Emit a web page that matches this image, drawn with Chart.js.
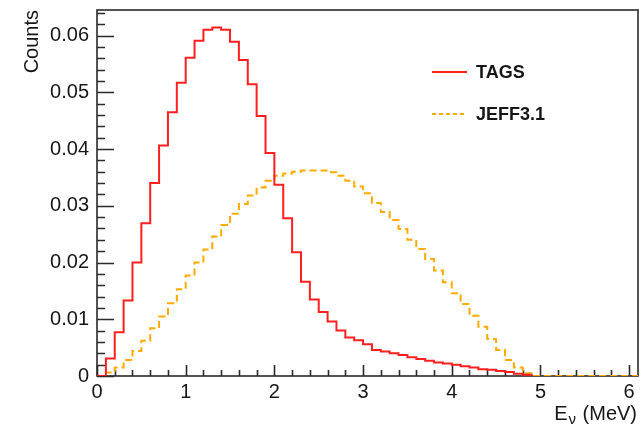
<!DOCTYPE html>
<html>
<head>
<meta charset="utf-8">
<script src="https://cdn.jsdelivr.net/npm/chart.js@4"></script>
<style>
  html,body{margin:0;padding:0;background:#fff;}
  #wrap{width:642px;height:426px;position:relative;}
</style>
</head>
<body>
<div id="wrap"><canvas id="chart"></canvas></div>
<script>
// ---- data (bin contents, 0.1 MeV bins starting at 0) ----
const binWidth = 0.1;
const tagsCounts = [0, 0.0031, 0.0077, 0.0133, 0.0200, 0.0269, 0.0340, 0.0406, 0.0465, 0.0517,
  0.0561, 0.0591, 0.0610, 0.0614, 0.0610, 0.0589, 0.0557, 0.0514, 0.0458, 0.0393,
  0.0337, 0.0278, 0.0218, 0.0166, 0.0135, 0.0113, 0.0096, 0.0080, 0.0068, 0.0063,
  0.0056, 0.0046, 0.0043, 0.0040, 0.0037, 0.0033, 0.0030, 0.0027, 0.0024, 0.0022,
  0.0020, 0.0017, 0.0015, 0.0012, 0.0011, 0.0009, 0.0007, 0.0004, 0.0002];
const jeffCounts = [0, 0.0006, 0.0015, 0.0028, 0.0044, 0.0062, 0.0084, 0.0105, 0.0128, 0.0153,
  0.0177, 0.0200, 0.0223, 0.0246, 0.0266, 0.0286, 0.0303, 0.0318, 0.0332, 0.0344,
  0.0353, 0.0357, 0.0360, 0.0362, 0.0362, 0.0362, 0.0359, 0.0353, 0.0344, 0.0334,
  0.0322, 0.0305, 0.0289, 0.0275, 0.0259, 0.0240, 0.0224, 0.0206, 0.0186, 0.0165,
  0.0146, 0.0127, 0.0106, 0.0087, 0.0065, 0.0046, 0.0028, 0.0015, 0.0005, 0,
  0, 0, 0, 0, 0, 0, 0, 0, 0, 0, 0];
const seriesLabels = ['TAGS', 'JEFF3.1'];
const xTicks = [0, 1, 2, 3, 4, 5, 6];
const yTicks = [0, 0.01, 0.02, 0.03, 0.04, 0.05, 0.06];
const xTitle = ['E', '\u03bd', ' (MeV)'];
const yTitle = 'Counts';

const FONT = 'Liberation Sans, Arial, sans-serif';
const INK = '#161616';

// histogram -> step points (left edge of each bin, plus closing edge)
function histPoints(counts){
  const pts = counts.map((v,i)=>({x: i*binWidth, y: v}));
  pts.push({x: counts.length*binWidth, y: 0});
  return pts;
}

// ---- frame + inward ROOT-style ticks ----
const frame = {
  id:'frame',
  beforeDatasetsDraw(c){
    const {ctx, chartArea:a, scales:{x, y}} = c;
    ctx.save();
    ctx.strokeStyle = '#2a2a2a'; ctx.lineWidth = 1.6;
    ctx.strokeRect(a.left, a.top, a.right-a.left, a.bottom-a.top);
    ctx.beginPath();
    for(let k=0;k<=32;k++){
      const v = k*0.002; if(v > y.max) break;
      const py = Math.round(y.getPixelForValue(v))+0.5;
      const len = k%5===0 ? 17 : 8;
      ctx.moveTo(a.left, py); ctx.lineTo(a.left+len, py);
    }
    for(let k=0;k<=31;k++){
      const v = k*0.2; if(v > x.max+1e-9) break;
      const px = Math.round(x.getPixelForValue(v))+0.5;
      const len = k%5===0 ? 11 : 6;
      ctx.moveTo(px, a.bottom); ctx.lineTo(px, a.bottom-len);
    }
    ctx.stroke();
    ctx.restore();
  }
};

// ---- legend inside the pad + x title with subscript ----
const extras = {
  id:'extras',
  afterDraw(c){
    const {ctx, chartArea:a} = c;
    ctx.save();
    const rows = [72, 114];
    c.data.datasets.forEach((ds,i)=>{
      const yy = rows[i];
      ctx.strokeStyle = ds.borderColor; ctx.lineWidth = 2;
      ctx.setLineDash(i===1 ? [4,3] : []);
      ctx.beginPath(); ctx.moveTo(432, yy); ctx.lineTo(467, yy); ctx.stroke();
      ctx.setLineDash([]);
      ctx.fillStyle = INK; ctx.font = 'bold 18px ' + FONT;
      ctx.textBaseline = 'middle'; ctx.textAlign = 'left';
      ctx.fillText(ds.label, 476, yy+1);
    });
    // x axis title, right aligned at the frame edge
    ctx.fillStyle = INK; ctx.textBaseline = 'alphabetic'; ctx.textAlign = 'left';
    const big = '20px ' + FONT, small = '15px ' + FONT;
    ctx.font = big; const w0 = ctx.measureText(xTitle[0]).width, w2 = ctx.measureText(xTitle[2]).width;
    ctx.font = small; const w1 = ctx.measureText(xTitle[1]).width;
    let px = a.right - 1 - (w0+w1+w2+2);
    const base = 420;
    ctx.font = big; ctx.fillText(xTitle[0], px, base); px += w0 + 1;
    ctx.font = small; ctx.fillText(xTitle[1], px, base+4); px += w1 + 1;
    ctx.font = big; ctx.fillText(xTitle[2], px, base);
    ctx.restore();
  }
};

new Chart(document.getElementById('chart'), {
  type:'line',
  data:{
    datasets:[
      {label:seriesLabels[0], data:histPoints(tagsCounts), borderColor:'#ff1f1f', borderWidth:2,
       pointRadius:0, stepped:'before', fill:false, tension:0},
      {label:seriesLabels[1], data:histPoints(jeffCounts), borderColor:'#ffaa00', borderWidth:2,
       borderDash:[7,4], pointRadius:0, stepped:'before', fill:false, tension:0}
    ]
  },
  options:{
    responsive:true, maintainAspectRatio:false, animation:false,
    layout:{padding:{left:0, right:4, top:10, bottom:0}},
    plugins:{legend:{display:false}, tooltip:{enabled:false}},
    scales:{
      x:{type:'linear', min:0, max:6.1,
         afterBuildTicks:s=>{ s.ticks = xTicks.map(v=>({value:v})); },
         afterFit:s=>{ s.height = 50; s.paddingLeft = 0; s.paddingRight = 0; },
         grid:{display:false, drawTicks:false}, border:{display:false},
         ticks:{padding:4, color:INK, font:{family:FONT, size:20}, maxRotation:0, autoSkip:false,
                callback:v=>String(v)}},
      y:{type:'linear', min:0, max:0.0645,
         afterBuildTicks:s=>{ s.ticks = yTicks.map(v=>({value:v})); },
         afterFit:s=>{ s.width = 97; s.paddingTop = 0; s.paddingBottom = 0; },
         grid:{display:false, drawTicks:false}, border:{display:false},
         title:{display:true, text:yTitle, align:'end', color:INK, font:{family:FONT, size:20}, padding:{top:20, bottom:0}},
         ticks:{padding:8, color:INK, font:{family:FONT, size:20}, autoSkip:false,
                callback:v=> v===0 ? '0' : v.toFixed(2)}}
    }
  },
  plugins:[frame, extras]
});
</script>
</body>
</html>
